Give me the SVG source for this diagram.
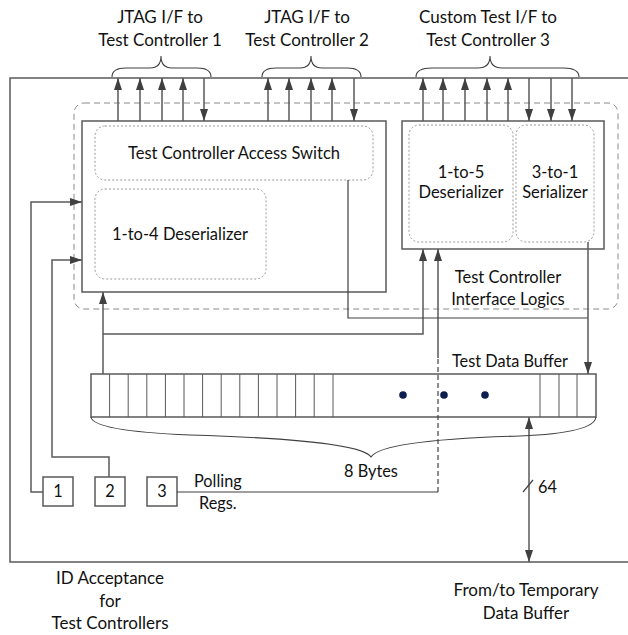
<svg xmlns="http://www.w3.org/2000/svg" width="628" height="635" viewBox="0 0 628 635">
<defs>
<marker id="ah" viewBox="0 0 12 8" refX="12" refY="4" markerWidth="12" markerHeight="8" orient="auto-start-reverse" markerUnits="userSpaceOnUse">
<path d="M0,0 L12,4 L0,8 z" fill="#404040"/>
</marker>
<style>
.frame{fill:none;stroke:#595959;stroke-width:1.5}
.box{fill:#fff;stroke:#595959;stroke-width:1.5}
.dot{fill:none;stroke:#9a9a9a;stroke-width:1;stroke-dasharray:2,2}
.dash{fill:none;stroke:#8a8a8a;stroke-width:1;stroke-dasharray:6,4}
.ln{fill:none;stroke:#404040;stroke-width:1.2}
.arr{fill:none;stroke:#595959;stroke-width:1.5;marker-end:url(#ah)}
.brace{fill:none;stroke:#404040;stroke-width:1.1}
.cell{fill:none;stroke:#595959;stroke-width:1}
text{font-family:Lato,"Liberation Sans",sans-serif;font-size:16.5px;fill:#111;text-anchor:middle}
.sm{font-size:16.3px}
.lg{font-size:17px}
</style>
</defs>

<g id="outer-frame">
<path class="frame" d="M628,78 H10 V562 H628"/>
</g>

<g id="interface-logics">
<rect class="dash" x="74" y="103" width="544" height="206" rx="10"/>
<text x="508" y="283">Test Controller</text>
<text x="508" y="305">Interface Logics</text>
</g>

<g id="left-box">
<rect class="box" x="82" y="121" width="304" height="171"/>
</g>
<g id="access-switch">
<rect class="dot" x="95" y="126" width="278" height="54" rx="10"/>
<text x="234" y="159">Test Controller Access Switch</text>
</g>
<g id="deser4">
<rect class="dot" x="95" y="189" width="171" height="90" rx="10"/>
<text x="180" y="240">1-to-4 Deserializer</text>
</g>

<g id="right-box">
<rect class="box" x="402" y="121" width="202" height="128"/>
</g>
<g id="deser5">
<rect class="dot" x="409" y="125" width="104" height="117" rx="10"/>
<text x="461" y="178">1-to-5</text>
<text x="461" y="198">Deserializer</text>
</g>
<g id="ser3">
<rect class="dot" x="516" y="125" width="78" height="117" rx="10"/>
<text x="555" y="178">3-to-1</text>
<text x="555" y="198">Serializer</text>
</g>

<g id="test-data-buffer">
<rect class="box" x="91" y="374" width="505" height="43"/>
<path class="cell" d="M109.6,374V417 M128.2,374V417 M146.8,374V417 M165.4,374V417 M184,374V417 M202.6,374V417 M221.2,374V417 M239.8,374V417 M258.4,374V417 M277,374V417 M295.6,374V417 M314.2,374V417 M333,374V417 M540,374V417 M559,374V417 M577,374V417"/>
<circle cx="403" cy="395" r="3.8" fill="#0d1f4f"/>
<circle cx="444" cy="395" r="3.8" fill="#0d1f4f"/>
<circle cx="485" cy="395" r="3.8" fill="#0d1f4f"/>
<text x="510" y="367" class="sm">Test Data Buffer</text>
</g>

<g id="reg1">
<rect class="box" x="43" y="477" width="30" height="29"/>
<text x="58" y="497" class="sm">1</text>
</g>
<g id="reg2">
<rect class="box" x="95" y="477" width="30" height="29"/>
<text x="110" y="497" class="sm">2</text>
</g>
<g id="reg3">
<rect class="box" x="147" y="477" width="30" height="29"/>
<text x="162" y="497" class="sm">3</text>
</g>

<g id="connectors">
<line class="arr" x1="118" y1="121" x2="118" y2="78"/>
<line class="arr" x1="140" y1="121" x2="140" y2="78"/>
<line class="arr" x1="162" y1="121" x2="162" y2="78"/>
<line class="arr" x1="183" y1="121" x2="183" y2="78"/>
<line class="arr" x1="204" y1="78" x2="204" y2="121"/>
<line class="arr" x1="268" y1="121" x2="268" y2="78"/>
<line class="arr" x1="289" y1="121" x2="289" y2="78"/>
<line class="arr" x1="311" y1="121" x2="311" y2="78"/>
<line class="arr" x1="332" y1="121" x2="332" y2="78"/>
<line class="arr" x1="354" y1="78" x2="354" y2="121"/>
<line class="arr" x1="423" y1="121" x2="423" y2="78"/>
<line class="arr" x1="443" y1="121" x2="443" y2="78"/>
<line class="arr" x1="465" y1="121" x2="465" y2="78"/>
<line class="arr" x1="487" y1="121" x2="487" y2="78"/>
<line class="arr" x1="508" y1="121" x2="508" y2="78"/>
<line class="arr" x1="529" y1="78" x2="529" y2="121"/>
<line class="arr" x1="551" y1="78" x2="551" y2="121"/>
<line class="arr" x1="572" y1="78" x2="572" y2="121"/>

<path class="arr" d="M43,492 H31 V202 H82"/>
<path class="arr" d="M109,477 V457 H52 V260 H82"/>

<path class="arr" d="M103,374 V292"/>
<path class="arr" d="M103,334 H423 V249"/>

<path class="ln" d="M177,492 H438"/>
<path class="ln" d="M438,492 V358" stroke-dasharray="5,3"/>
<path class="arr" d="M438,358 V249"/>

<path class="ln" d="M348,180 V318 H588"/>
<path class="arr" d="M588,242 V374"/>

<line class="arr" x1="529" y1="417" x2="529" y2="562" style="marker-start:url(#ah)"/>
<line class="ln" x1="523" y1="492" x2="533" y2="480"/>
</g>

<g id="braces">
<path class="brace" d="M112,77 Q112,68 126,68 H150 Q161,68 161,56 Q161,68 172,68 H197 Q211,68 211,77"/>
<path class="brace" d="M262,77 Q262,68 276,68 H300 Q311,68 311,56 Q311,68 322,68 H347 Q361,68 361,77"/>
<path class="brace" d="M416,77 Q416,68 432,68 H478 Q490,68 490,56 Q490,68 502,68 H563 Q579,68 579,77"/>
<path class="brace" d="M91,417 Q93,431 190,435 Q360,440 371,457 Q382,440 520,436 Q594,433 596,417"/>
</g>

<g id="labels">
<text x="160" y="23" class="lg">JTAG I/F to</text>
<text x="160" y="46" class="lg">Test Controller 1</text>
<text x="307" y="23" class="lg">JTAG I/F to</text>
<text x="307" y="46" class="lg">Test Controller 2</text>
<text x="488" y="23" class="lg">Custom Test I/F to</text>
<text x="488" y="46" class="lg">Test Controller 3</text>
<text x="371" y="477" class="sm">8 Bytes</text>
<text x="538" y="493" class="sm" style="text-anchor:start">64</text>
<text x="194" y="487" class="sm" style="text-anchor:start">Polling</text>
<text x="199" y="509" class="sm" style="text-anchor:start">Regs.</text>
<text x="110" y="584" class="lg">ID Acceptance</text>
<text x="110" y="607" class="lg">for</text>
<text x="110" y="629" class="lg">Test Controllers</text>
<text x="526" y="596" class="lg">From/to Temporary</text>
<text x="526" y="619" class="lg">Data Buffer</text>
</g>
</svg>
